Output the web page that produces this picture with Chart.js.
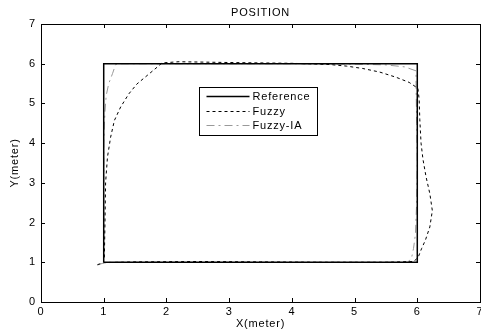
<!DOCTYPE html>
<html>
<head>
<meta charset="utf-8">
<script src="https://cdn.jsdelivr.net/npm/chart.js@4.4.1/dist/chart.umd.min.js"></script>
<style>
  html, body { margin: 0; padding: 0; background: #fff; }
  #wrap { width: 481px; height: 335px; }
</style>
</head>
<body>
<div id="wrap"><canvas id="chart"></canvas></div>
<script>
// tick labels (same for both axes)
const tickLabels = ['0', '1', '2', '3', '4', '5', '6', '7'];

// Reference square path
const refX = [1, 6, 6, 1, 1];
const refY = [1, 1, 6, 6, 1];

// Fuzzy controller trajectory
const fuzzyX = [0.90, 1.00, 1.50, 2.50, 3.50, 4.50, 5.50, 5.95, 6.02, 6.07, 6.13, 6.20, 6.24, 6.20, 6.14,
  6.09, 6.06, 6.04, 6.03, 6.01, 5.87, 5.66, 5.40, 5.13, 4.87, 4.60, 4.00, 3.00, 2.20, 1.93, 1.85,
  1.69, 1.53, 1.40, 1.27, 1.17, 1.11, 1.06, 1.03, 1.02, 1.01];
const fuzzyY = [0.94, 0.99, 1.01, 1.02, 1.01, 1.00, 1.00, 1.02, 1.15, 1.35, 1.56, 1.89, 2.30, 2.73, 3.15,
  3.60, 4.00, 4.60, 5.10, 5.38, 5.53, 5.66, 5.79, 5.88, 5.94, 5.98, 6.01, 6.03, 6.05, 6.02, 5.91,
  5.70, 5.49, 5.24, 4.91, 4.57, 4.15, 3.65, 3.00, 2.00, 1.10];

// Fuzzy-IA controller trajectory
const iaX = [0.90, 1.03, 2.00, 3.00, 4.00, 5.00, 5.85, 5.91, 5.94, 5.97, 5.99, 6.00, 5.99, 5.98, 5.98,
  5.80, 5.50, 5.00, 4.00, 3.00, 2.00, 1.25, 1.19, 1.14, 1.08, 1.04, 1.02, 1.00, 1.00, 1.00, 1.00];
const iaY = [0.93, 1.00, 1.00, 1.00, 1.00, 1.00, 1.00, 1.12, 1.35, 1.70, 2.50, 3.50, 4.50, 5.50, 5.82,
  5.92, 5.97, 5.99, 6.00, 6.00, 6.00, 6.00, 5.98, 5.75, 5.50, 5.20, 4.80, 4.00, 3.00, 2.00, 1.10];

const pts = (xs, ys) => xs.map((x, i) => ({x: x, y: ys[i]}));

Chart.defaults.color = '#000';
Chart.defaults.font.family = "'Liberation Sans', Arial, sans-serif";
Chart.defaults.font.size = 11;

// fixed box sizes so the plot area sits where the original has it
function fixSize(prop, size) {
  return function (scale) {
    scale[prop] = size;
    scale.paddingLeft = 0;
    scale.paddingRight = 0;
    scale.paddingTop = 0;
    scale.paddingBottom = 0;
  };
}

// matlab look: wider text, ticks pointing into the box
const textSpacing = {
  id: 'textSpacing',
  beforeDraw(chart) {
    chart.ctx.letterSpacing = '0.8px';
  }
};

const innerTicks = {
  id: 'innerTicks',
  afterDatasetsDraw(chart) {
    const {ctx, chartArea: a, scales} = chart;
    const len = 4;
    ctx.save();
    ctx.strokeStyle = '#000';
    ctx.lineWidth = 1;
    ctx.beginPath();
    scales.x.ticks.forEach(t => {
      const px = Math.round(scales.x.getPixelForValue(t.value)) + 0.5;
      ctx.moveTo(px, a.bottom); ctx.lineTo(px, a.bottom - len);
      ctx.moveTo(px, a.top); ctx.lineTo(px, a.top + len);
    });
    scales.y.ticks.forEach(t => {
      const py = Math.round(scales.y.getPixelForValue(t.value)) + 0.5;
      ctx.moveTo(a.left, py); ctx.lineTo(a.left + len, py);
      ctx.moveTo(a.right, py); ctx.lineTo(a.right - len, py);
    });
    ctx.stroke();
    ctx.restore();
  }
};

const boxLegend = {
  id: 'boxLegend',
  afterDatasetsDraw(chart, args, opts) {
    const {ctx} = chart;
    const {left, top, width, height, row, first} = opts;
    ctx.save();
    ctx.fillStyle = '#fff';
    ctx.fillRect(left, top, width, height);
    ctx.strokeStyle = '#000';
    ctx.lineWidth = 1;
    ctx.strokeRect(left, top, width, height);
    ctx.font = "11px 'Liberation Sans', Arial, sans-serif";
    ctx.textBaseline = 'middle';
    ctx.letterSpacing = '0.8px';
    chart.data.datasets.forEach((ds, i) => {
      const y = Math.round(top + first + i * row) + 0.5;
      ctx.beginPath();
      ctx.setLineDash(ds.borderDash || []);
      ctx.strokeStyle = ds.borderColor;
      ctx.lineWidth = ds.borderWidth;
      ctx.moveTo(left + 7, y);
      ctx.lineTo(left + 50, y);
      ctx.stroke();
      ctx.setLineDash([]);
      ctx.fillStyle = '#000';
      ctx.fillText(ds.label, left + 53, y);
    });
    ctx.restore();
  }
};

const hiddenAxis = (pos, prop, size) => ({
  type: 'linear', position: pos, min: 0, max: 7,
  ticks: {display: false, stepSize: 1},
  grid: {drawOnChartArea: false, drawTicks: false},
  border: {display: true, color: '#000', width: 1},
  afterFit: fixSize(prop, size)
});

const topAxis = hiddenAxis('top', 'height', 24);
topAxis.title = {display: true, text: 'POSITION', font: {size: 11}, padding: {top: 6, bottom: 0}};

new Chart(document.getElementById('chart'), {
  type: 'scatter',
  data: {
    datasets: [{
      label: 'Reference',
      data: pts(refX, refY),
      borderColor: '#000',
      borderWidth: 1.5,
      showLine: true,
      pointRadius: 0
    }, {
      label: 'Fuzzy',
      data: pts(fuzzyX, fuzzyY),
      borderColor: '#000',
      borderWidth: 1,
      borderDash: [3, 3],
      showLine: true,
      pointRadius: 0
    }, {
      label: 'Fuzzy-IA',
      data: pts(iaX, iaY),
      borderColor: '#999',
      borderWidth: 1,
      borderDash: [8, 4, 2, 4],
      showLine: true,
      pointRadius: 0
    }]
  },
  options: {
    responsive: true,
    maintainAspectRatio: false,
    animation: false,
    layout: {padding: 0},
    scales: {
      x: {
        type: 'linear', position: 'bottom', min: 0, max: 7,
        ticks: {stepSize: 1, padding: 3, maxRotation: 0, autoSkip: false,
          callback: (v) => tickLabels[v]},
        grid: {drawOnChartArea: false, drawTicks: false},
        border: {display: true, color: '#000', width: 1},
        title: {display: true, text: 'X(meter)', font: {size: 11}, padding: {top: 0, bottom: 4}},
        afterFit: fixSize('height', 33)
      },
      y: {
        type: 'linear', position: 'left', min: 0, max: 7,
        ticks: {stepSize: 1, padding: 5, autoSkip: false,
          callback: (v) => tickLabels[v]},
        grid: {drawOnChartArea: false, drawTicks: false},
        border: {display: true, color: '#000', width: 1},
        title: {display: true, text: 'Y(meter)', font: {size: 11}, padding: {top: 8, bottom: 0}},
        afterFit: fixSize('width', 41)
      },
      x2: topAxis,
      y2: hiddenAxis('right', 'width', 1)
    },
    plugins: {
      legend: {display: false},
      tooltip: {enabled: false},
      boxLegend: {left: 199.5, top: 87.5, width: 118, height: 48, row: 14.5, first: 8.5}
    }
  },
  plugins: [textSpacing, innerTicks, boxLegend]
});
</script>
</body>
</html>
